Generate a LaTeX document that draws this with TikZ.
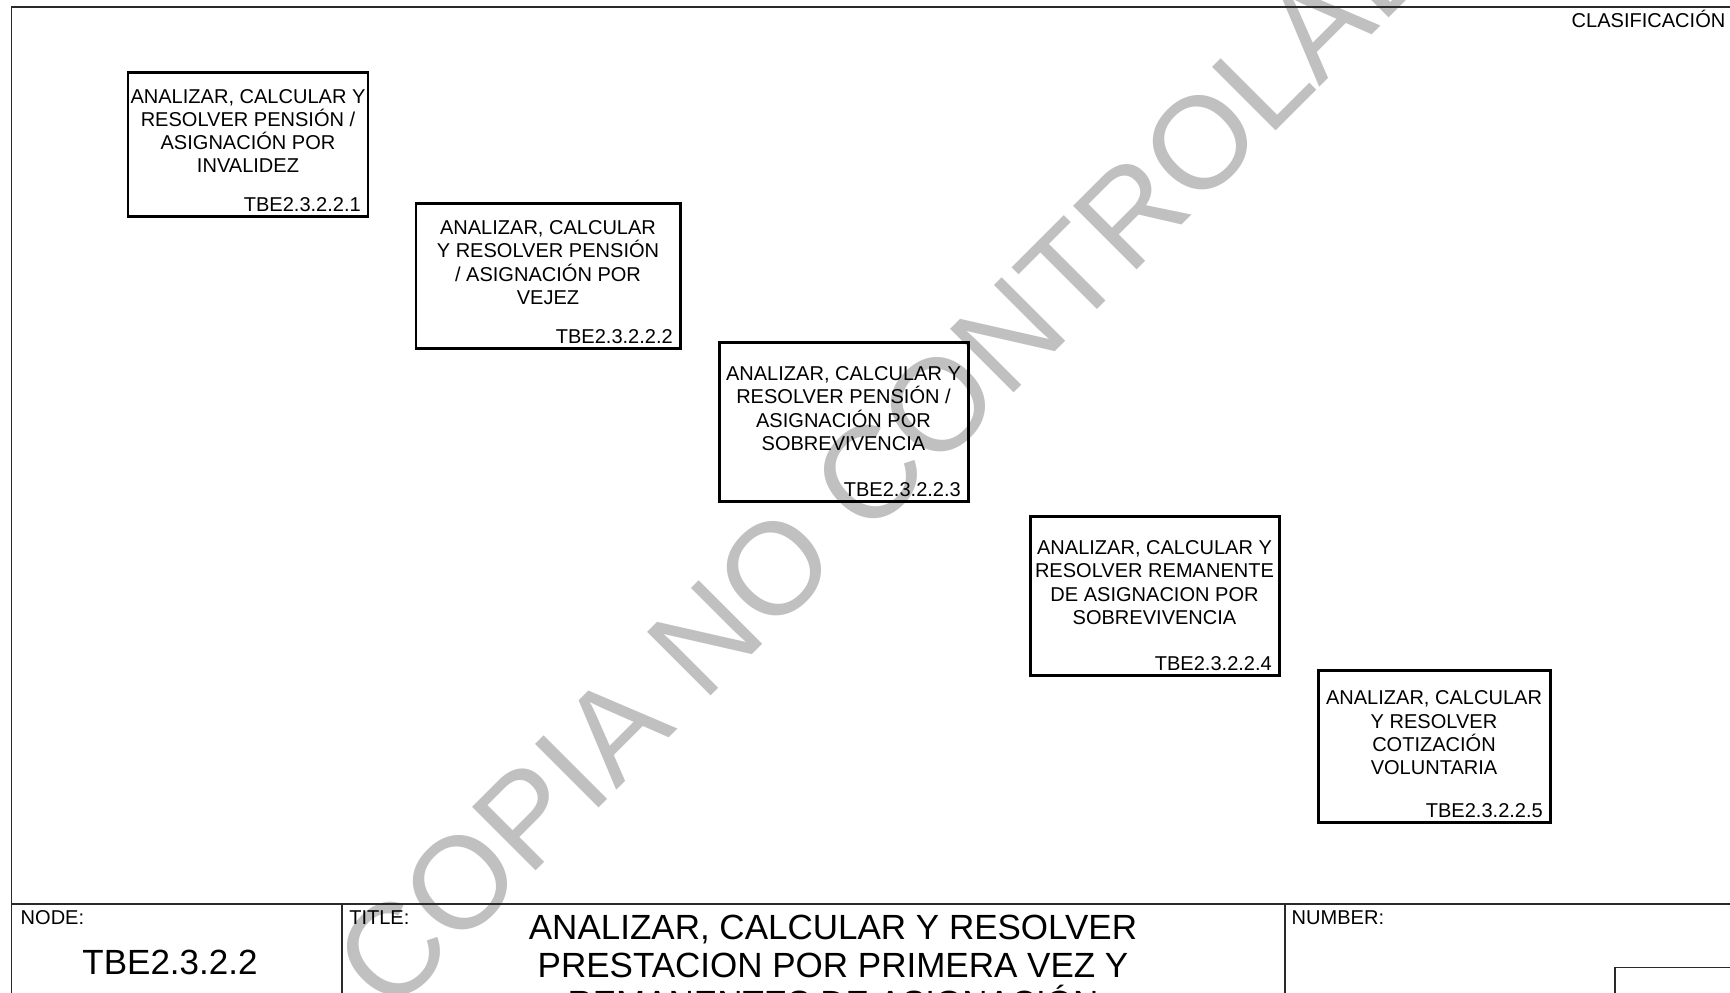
\documentclass[tikz,border=0pt]{standalone}
\usepackage{fontspec}
\setmainfont{Liberation Sans}
\usepackage{xcolor}
\usetikzlibrary{positioning, calc, backgrounds}
\definecolor{cWater}{HTML}{C0C0C0}
\definecolor{cFrame}{HTML}{2A2A2A}

\begin{document}
\begin{tikzpicture}[
  x=1mm, y=-1mm,
  every node/.style={inner sep=0pt},
  fn/.style={draw, line width=0.85pt},
  fntext/.style={align=center, font={\fontsize{5.7}{6.63}\selectfont}},
  fnid/.style={anchor=east, font={\fontsize{5.7}{6.63}\selectfont}},
  lbl/.style={font={\fontsize{5.7}{6.63}\selectfont}},
  big/.style={font={\fontsize{9.96}{10.8}\selectfont}},
  water/.style={text=cWater, font={\fontsize{37.2}{40}\selectfont}},
  frame/.style={draw=cFrame, line width=0.4pt},
  rule/.style={draw=cFrame, line width=0.3pt}
]
\useasboundingbox (0,0) rectangle (173,99.2);

% Watermark
\node[water, rotate=45, anchor=base west] (wm) at (38.96,101.74) {COPIA NO CONTROLADA};

% Sheet frame and title block
\draw[frame] (1.15,104) -- (1.15,0.7) -- (180,0.7);
\draw[frame] (1.15,90.4) -- (180,90.4);
\draw[rule] (34.2,90.4) -- (34.2,104);
\draw[rule] (128.5,90.4) -- (128.5,104);
\draw[rule] (161.5,104) |- (180,96.7);

\node[lbl, anchor=base east] (clas) at (172.6,2.7) {CLASIFICACIÓN};
\node[lbl, anchor=base west] (nodelbl) at (2.0,92.4) {NODE:};
\node[lbl, anchor=base west] (titlelbl) at (34.86,92.4) {TITLE:};
\node[lbl, anchor=base west] (numlbl) at (129.1,92.4) {NUMBER:};
\node[big, anchor=base] (nodeid) at (17.0,97.45) {TBE2.3.2.2};
\node[big, align=center, anchor=north] (title) at (83.3,91.4) {ANALIZAR, CALCULAR Y RESOLVER\\PRESTACION POR PRIMERA VEZ Y\\REMANENTES DE ASIGNACIÓN};

% Functions
\node[fn, minimum width=24mm, minimum height=14.4mm] (inval) at (24.8,14.4) {};
\node[fn, minimum width=26.4mm, minimum height=14.5mm] (vejez) at (54.8,27.55) {};
\node[fn, minimum width=24.9mm, minimum height=15.9mm] (sobre) at (84.35,42.15) {};
\node[fn, minimum width=24.9mm, minimum height=15.9mm] (reman) at (115.45,59.55) {};
\node[fn, minimum width=23.2mm, minimum height=15.2mm] (cotiz) at (143.4,74.6) {};

\node[fntext] (invalt) at ($(inval.center)+(0,-1.3)$) {ANALIZAR, CALCULAR Y\\RESOLVER PENSIÓN /\\ASIGNACIÓN POR\\INVALIDEZ};
\node[fntext] (vejezt) at ($(vejez.center)+(0,-1.3)$) {ANALIZAR, CALCULAR\\Y RESOLVER PENSIÓN\\/ ASIGNACIÓN POR\\VEJEZ};
\node[fntext] (sobret) at ($(sobre.center)+(0,-1.3)$) {ANALIZAR, CALCULAR Y\\RESOLVER PENSIÓN /\\ASIGNACIÓN POR\\SOBREVIVENCIA};
\node[fntext] (remant) at ($(reman.center)+(0,-1.3)$) {ANALIZAR, CALCULAR Y\\RESOLVER REMANENTE\\DE ASIGNACION POR\\SOBREVIVENCIA};
\node[fntext] (cotizt) at ($(cotiz.center)+(0,-1.3)$) {ANALIZAR, CALCULAR\\Y RESOLVER\\COTIZACIÓN\\VOLUNTARIA};

\node[fnid] (invaln) at ($(inval.south east)+(-0.8,-1.3)$) {TBE2.3.2.2.1};
\node[fnid] (vejezn) at ($(vejez.south east)+(-0.8,-1.3)$) {TBE2.3.2.2.2};
\node[fnid] (sobren) at ($(sobre.south east)+(-0.8,-1.3)$) {TBE2.3.2.2.3};
\node[fnid] (remann) at ($(reman.south east)+(-0.8,-1.3)$) {TBE2.3.2.2.4};
\node[fnid] (cotizn) at ($(cotiz.south east)+(-0.8,-1.3)$) {TBE2.3.2.2.5};
\end{tikzpicture}
\end{document}
